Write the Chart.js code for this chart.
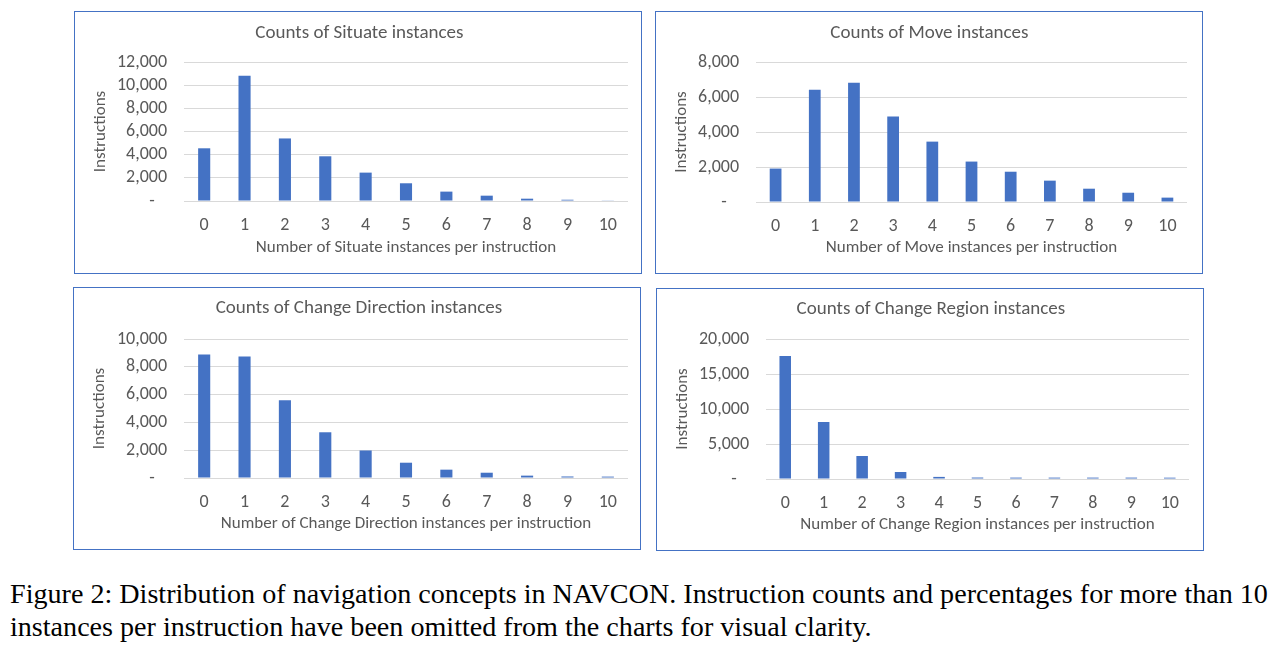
<!DOCTYPE html>
<html><head><meta charset="utf-8">
<script src="https://cdn.jsdelivr.net/npm/chart.js@4.4.0/dist/chart.umd.min.js"></script>
<style>
html,body{margin:0;padding:0;background:#fff;width:1277px;height:650px;overflow:hidden;position:relative;}
.panel{position:absolute;border:1px solid #4472C4;box-sizing:border-box;background:#fff;}
.panel canvas{position:absolute;left:-1px;top:-1px;}
.cap{position:absolute;left:10px;font-family:"Liberation Serif","Times New Roman",serif;color:#000;white-space:nowrap;}
</style></head><body>
<div id="p1" class="panel"><canvas id="c1"></canvas></div>
<div id="p2" class="panel"><canvas id="c2"></canvas></div>
<div id="p3" class="panel"><canvas id="c3"></canvas></div>
<div id="p4" class="panel"><canvas id="c4"></canvas></div>
<div id="cap1" class="cap"></div>
<div id="cap2" class="cap"></div>
<script>
// ---- data ----
const categories = ['0','1','2','3','4','5','6','7','8','9','10'];
const situateCounts = [4550, 10820, 5400, 3860, 2450, 1530, 810, 460, 200, 110, 30];
const moveCounts = [1910, 6420, 6820, 4880, 3450, 2310, 1730, 1220, 760, 530, 250];
const changeDirectionCounts = [8880, 8740, 5600, 3290, 1980, 1100, 600, 380, 170, 110, 100];
const changeRegionCounts = [17570, 8140, 3290, 1000, 300, 210, 200, 200, 200, 200, 190];
const chartTitles = ['Counts of Situate instances','Counts of Move instances','Counts of Change Direction instances','Counts of Change Region instances'];
const xTitles = ['Number of Situate instances per instruction','Number of Move instances per instruction','Number of Change Direction instances per instruction','Number of Change Region instances per instruction'];
const yTitle = 'Instructions';
const yMax = [12000, 8000, 10000, 20000];
const yStep = [2000, 2000, 2000, 5000];
const captionLines = ['Figure 2: Distribution of navigation concepts in NAVCON. Instruction counts and percentages for more than 10',
                      'instances per instruction have been omitted from the charts for visual clarity.'];

// ---- layout ----
const FAMILY = 'Calibri, Carlito, Lato, sans-serif';
const TEXT = '#595959';
Chart.defaults.font.family = FAMILY;
Chart.defaults.color = TEXT;
const panels = [
  {box:[74,11,568,263], area:[110,51,554,190], tc:22, xt:237, data:situateCounts},
  {box:[655,11,548,263], area:[101,51,532,191], tc:22, xt:237, data:moveCounts},
  {box:[73,287,568,263], area:[111,52,555,191], tc:21, xt:237, data:changeDirectionCounts},
  {box:[656,288,548,263], area:[110,51,533,191], tc:21, xt:237, data:changeRegionCounts}
];
const TITLE_SIZE = 19, AXIS_TITLE_SIZE = 17, TICK_SIZE = 18;
const axLH = AXIS_TITLE_SIZE * 1.2;
const tickLH = TICK_SIZE * 1.2;
const padL = 27 - axLH / 2;
panels.forEach((p, i) => {
  const div = document.getElementById('p' + (i + 1));
  const [x, y, W, H] = p.box;
  div.style.left = x + 'px'; div.style.top = y + 'px';
  div.style.width = W + 'px'; div.style.height = H + 'px';
  const cv = document.getElementById('c' + (i + 1));
  cv.width = W; cv.height = H;
  cv.style.width = W + 'px'; cv.style.height = H + 'px';
  const [aL, aT, aR, aB] = p.area;
  const xBottom = p.xt + axLH / 2;
  const tLH = TITLE_SIZE * 1.2;
  const tTop = p.tc - tLH / 2;
  new Chart(cv, {
    type: 'bar',
    data: {
      labels: categories,
      datasets: [{data: p.data, backgroundColor: '#4472C4', borderWidth: 0,
                   barPercentage: 0.3, categoryPercentage: 1.0}]
    },
    options: {
      responsive: false, animation: false, devicePixelRatio: 1,
      layout: {padding: {left: padL, right: W - aR, top: 0, bottom: H - xBottom}},
      plugins: {
        legend: {display: false}, tooltip: {enabled: false},
        title: {display: true, text: chartTitles[i], color: TEXT,
                font: {size: TITLE_SIZE, weight: 'normal', family: FAMILY},
                padding: {top: tTop, bottom: aT - tTop - tLH}}
      },
      scales: {
        x: {
          grid: {display: false, drawTicks: false}, border: {display: false},
          ticks: {color: TEXT, font: {size: TICK_SIZE}, padding: 24 - tickLH / 2, maxRotation: 0, autoSkip: false},
          title: {display: true, text: xTitles[i], color: TEXT, font: {size: AXIS_TITLE_SIZE}, padding: 0},
          afterFit(s) { s.height = xBottom - aB; }
        },
        y: {
          min: 0, max: yMax[i],
          grid: {color: '#d9d9d9', lineWidth: 1, drawTicks: false}, border: {display: false},
          ticks: {stepSize: yStep[i], autoSkip: false, color: TEXT, font: {size: TICK_SIZE}, padding: 17,
                  callback: v => v === 0 ? '-   ' : v.toLocaleString('en-US')},
          title: {display: true, text: yTitle, color: TEXT, font: {size: AXIS_TITLE_SIZE}, padding: 0},
          afterFit(s) { s.width = aL - padL; }
        }
      }
    }
  });
});

// ---- caption ----
(function(){
  const ctx = document.createElement('canvas').getContext('2d');
  ctx.font = '100px "Liberation Serif"';
  const w = ctx.measureText(captionLines[0]).width;
  const fs = 100 * 1258 / w;
  const L = Math.round(fs * 1.2);
  const baselines = [603, 636];
  ['cap1','cap2'].forEach((id, k) => {
    const d = document.getElementById(id);
    d.textContent = captionLines[k];
    d.style.fontSize = fs + 'px';
    d.style.lineHeight = L + 'px';
    d.style.top = (baselines[k] - (L / 2 + 0.3375 * fs)) + 'px';
  });
})();
</script>
</body></html>
